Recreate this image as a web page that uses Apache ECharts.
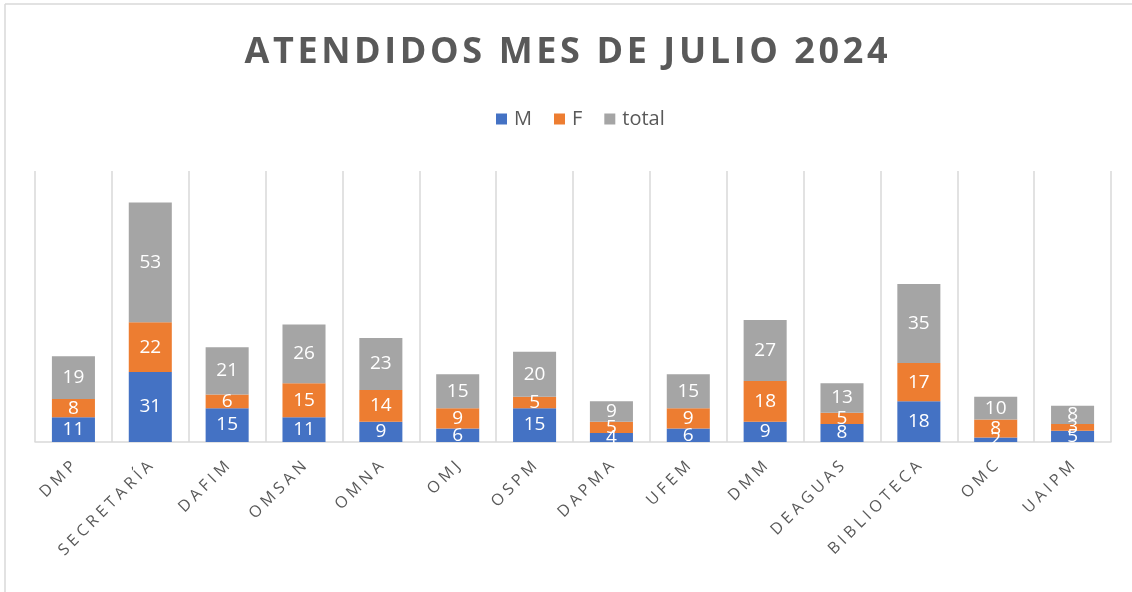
<!DOCTYPE html>
<html>
<head>
<meta charset="utf-8">
<script src="https://cdn.jsdelivr.net/npm/echarts@6/dist/echarts.min.js"></script>
<style>
  html, body { margin: 0; padding: 0; background: #fff; }
  #chart { width: 1132px; height: 592px; }
</style>
</head>
<body>
<div id="chart"></div>
<script>
// values
const categories = ['DMP', 'SECRETARÍA', 'DAFIM', 'OMSAN', 'OMNA', 'OMJ', 'OSPM', 'DAPMA', 'UFEM', 'DMM', 'DEAGUAS', 'BIBLIOTECA', 'OMC', 'UAIPM'];
const valuesM = [11, 31, 15, 11, 9, 6, 15, 4, 6, 9, 8, 18, 2, 5];
const valuesF = [8, 22, 6, 15, 14, 9, 5, 5, 9, 18, 5, 17, 8, 3];
const valuesTotal = [19, 53, 21, 26, 23, 15, 20, 9, 15, 27, 13, 35, 10, 8];

const FONT = '"Open Sans", sans-serif';

// Excel spreads letters out a bit, fake it with narrow spaces
function spaced(str, sp) {
    return str.split('').join(sp);
}

const chart = echarts.init(document.getElementById('chart'));

function barSeries(name, data, color) {
    return {
        name: name,
        type: 'bar',
        stack: 'all',
        data: data,
        barWidth: '56%',
        itemStyle: { color: color },
        label: {
            show: true,
            position: 'inside',
            color: '#fff',
            fontSize: 19,
            fontFamily: FONT
        }
    };
}

const option = {
    animation: false,
    title: {
        text: spaced('ATENDIDOS MES DE JULIO 2024', '\u200A'),
        left: 'center',
        top: 30,
        textStyle: {
            color: '#595959',
            fontSize: 36,
            fontWeight: 'bold',
            fontFamily: FONT
        }
    },
    legend: {
        top: 104,
        left: 491,
        itemWidth: 11,
        itemHeight: 11,
        itemGap: 22,
        icon: 'rect',
        textStyle: { color: '#595959', fontSize: 20, fontFamily: FONT, padding: [0, 0, 0, 2] }
    },
    grid: {
        left: 35,
        right: 21,
        top: 171,
        bottom: 150,
        containLabel: false
    },
    xAxis: {
        type: 'category',
        data: categories,
        axisLine: { lineStyle: { color: '#d9d9d9', width: 1.5 } },
        axisTick: { show: false },
        splitLine: { show: true, lineStyle: { color: '#d9d9d9', width: 1.5 } },
        axisLabel: {
            rotate: 45,
            margin: 22,
            color: '#595959',
            fontSize: 16,
            fontFamily: FONT,
            interval: 0,
            formatter: function (value) {
                return spaced(value, '\u2005');
            }
        }
    },
    yAxis: {
        type: 'value',
        min: 0,
        max: 120,
        show: false,
        splitLine: { show: false }
    },
    graphic: [
        { type: 'line', shape: { x1: 5, y1: 4, x2: 1132, y2: 4 }, style: { stroke: '#d9d9d9', lineWidth: 1.5 } },
        { type: 'line', shape: { x1: 5, y1: 4, x2: 5, y2: 592 }, style: { stroke: '#d9d9d9', lineWidth: 1.5 } }
    ],
    series: [
        barSeries('M', valuesM, '#4472C4'),
        barSeries('F', valuesF, '#ED7D31'),
        barSeries('total', valuesTotal, '#A5A5A5')
    ]
};

chart.setOption(option);
</script>
</body>
</html>
